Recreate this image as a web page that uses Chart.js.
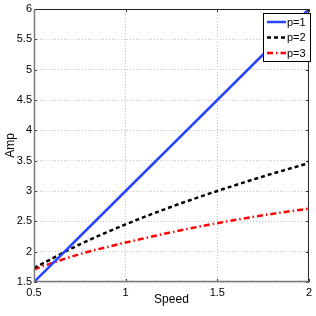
<!DOCTYPE html>
<html>
<head>
<meta charset="utf-8">
<script src="https://cdn.jsdelivr.net/npm/chart.js@4/dist/chart.umd.min.js"></script>
<style>
html,body{margin:0;padding:0;background:#fff;}
#wrap{width:316px;height:316px;position:relative;}
</style>
</head>
<body>
<div id="wrap"><canvas id="c" width="316" height="316"></canvas></div>
<script>
// Data
const speed = [0.5, 0.75, 1.0, 1.25, 1.5, 1.75, 2.0];
const ampP1 = [1.5, 2.25, 3.0, 3.75, 4.5, 5.25, 6.0];
const ampP2 = [1.73, 2.12, 2.45, 2.74, 3.00, 3.24, 3.46];
const ampP3 = [1.71, 1.96, 2.15, 2.32, 2.47, 2.60, 2.71];
const seriesLabels = ['p=1', 'p=2', 'p=3'];
const xTicks = [0.5, 1, 1.5, 2];
const yTicks = [1.5, 2, 2.5, 3, 3.5, 4, 4.5, 5, 5.5, 6];

const toPts = ys => speed.map((x, i) => ({x: x, y: ys[i]}));
const FONT = 'Liberation Sans, Arial, Helvetica, sans-serif';

const frame = {
  id: 'frame',
  afterDatasetsDraw(chart) {
    const {ctx, chartArea: a, scales} = chart;
    ctx.save();
    // inward ticks
    ctx.strokeStyle = '#333';
    ctx.lineWidth = 1;
    const tl = 3;
    ctx.beginPath();
    xTicks.forEach(v => {
      const px = Math.round(scales.x.getPixelForValue(v)) + 0.5;
      ctx.moveTo(px, a.bottom); ctx.lineTo(px, a.bottom - tl);
      ctx.moveTo(px, a.top); ctx.lineTo(px, a.top + tl);
    });
    yTicks.forEach(v => {
      const py = Math.round(scales.y.getPixelForValue(v)) + 0.5;
      ctx.moveTo(a.left, py); ctx.lineTo(a.left + tl, py);
      ctx.moveTo(a.right, py); ctx.lineTo(a.right - tl, py);
    });
    ctx.stroke();
    // box
    ctx.lineWidth = 1;
    ctx.strokeStyle = '#222';
    ctx.beginPath();
    ctx.moveTo(a.left, a.top + 0.5); ctx.lineTo(a.right, a.top + 0.5);
    ctx.moveTo(a.right - 0.5, a.top); ctx.lineTo(a.right - 0.5, a.bottom);
    ctx.stroke();
    ctx.lineWidth = 1.5;
    ctx.strokeStyle = '#7a7a7a';
    ctx.beginPath();
    ctx.moveTo(a.left + 0.5, a.top); ctx.lineTo(a.left + 0.5, a.bottom);
    ctx.moveTo(a.left, a.bottom - 0.5); ctx.lineTo(a.right, a.bottom - 0.5);
    ctx.stroke();

    // legend box inside top-right
    const bx = 263.5, by = 13.5, bw = 47, bh = 48;
    ctx.fillStyle = '#fff';
    ctx.fillRect(bx, by, bw, bh);
    ctx.lineWidth = 1;
    ctx.strokeStyle = '#000';
    ctx.strokeRect(bx, by, bw, bh);
    ctx.font = '11px ' + FONT;
    ctx.textBaseline = 'middle';
    ctx.textAlign = 'left';
    chart.data.datasets.forEach((ds, i) => {
      const y = 22 + i * 15.5;
      ctx.save();
      ctx.strokeStyle = ds.borderColor;
      ctx.lineWidth = ds.borderWidth;
      ctx.setLineDash(ds.borderDash || []);
      ctx.beginPath();
      ctx.moveTo(267, y); ctx.lineTo(286, y);
      ctx.stroke();
      ctx.restore();
      ctx.fillStyle = '#000';
      ctx.fillText(ds.label, 287, y + 0.5);
    });
    ctx.restore();
  }
};

new Chart(document.getElementById('c'), {
  type: 'line',
  data: {
    datasets: [
      {label: seriesLabels[0], data: toPts(ampP1), borderColor: '#2b45ff', borderWidth: 2.5, pointRadius: 0, fill: false},
      {label: seriesLabels[1], data: toPts(ampP2), borderColor: '#000000', borderWidth: 2.5, borderDash: [4, 3], pointRadius: 0, fill: false, cubicInterpolationMode: 'monotone'},
      {label: seriesLabels[2], data: toPts(ampP3), borderColor: '#ff0000', borderWidth: 2.5, borderDash: [6, 3, 1.5, 3], pointRadius: 0, fill: false, cubicInterpolationMode: 'monotone'}
    ]
  },
  options: {
    responsive: false,
    animation: false,
    devicePixelRatio: 1,
    layout: {padding: {top: 9, right: 7, left: 0, bottom: 0}},
    plugins: {legend: {display: false}, tooltip: {enabled: false}},
    scales: {
      x: {
        type: 'linear', min: 0.5, max: 2,
        afterBuildTicks(s) { s.ticks = xTicks.map(v => ({value: v})); },
        afterFit(s) { s.height = 34; },
        grid: {color: '#c4c4c4', lineWidth: 1, drawTicks: false},
        border: {display: false, dash: [1, 2]},
        ticks: {color: '#000', padding: 4, maxRotation: 0, font: {family: FONT, size: 11},
                callback: v => String(v)},
        title: {display: true, text: 'Speed', color: '#000', font: {family: FONT, size: 12}, padding: {top: 0, bottom: 9}}
      },
      y: {
        type: 'linear', min: 1.5, max: 6,
        afterBuildTicks(s) { s.ticks = yTicks.map(v => ({value: v})); },
        afterFit(s) { s.width = 34; },
        grid: {color: '#c4c4c4', lineWidth: 1, drawTicks: false},
        border: {display: false, dash: [1, 2]},
        ticks: {color: '#000', padding: 2, font: {family: FONT, size: 11},
                callback: v => String(v)},
        title: {display: true, text: 'Amp', color: '#000', font: {family: FONT, size: 12}, padding: {top: 3, bottom: 0}}
      }
    }
  },
  plugins: [frame]
});
</script>
</body>
</html>
